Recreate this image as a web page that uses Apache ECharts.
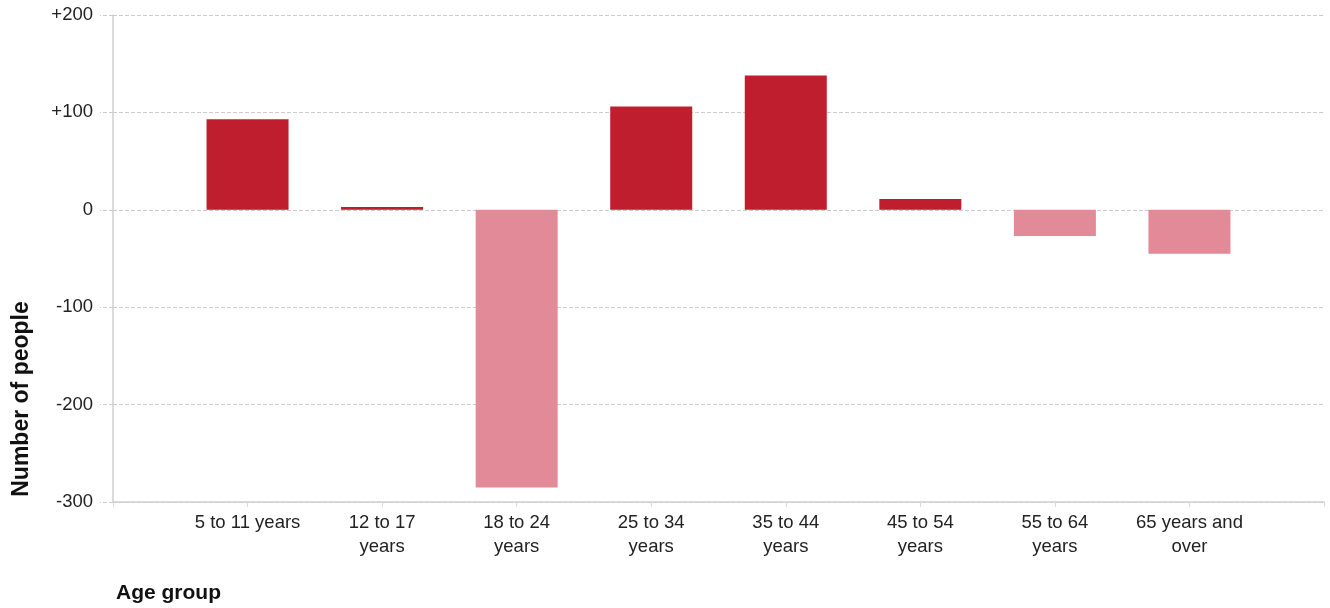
<!DOCTYPE html>
<html>
<head>
<meta charset="utf-8">
<script src="https://cdn.jsdelivr.net/npm/echarts@6/dist/echarts.min.js"></script>
<style>
  html, body { margin: 0; padding: 0; background: #fff; }
  #chart { width: 1330px; height: 608px; }
</style>
</head>
<body>
<div id="chart"></div>
<script>
// age groups (empty slots at both ends keep the bars on the ticks)
var ageGroups = ['', '5 to 11 years', '12 to 17\nyears', '18 to 24\nyears', '25 to 34\nyears',
  '35 to 44\nyears', '45 to 54\nyears', '55 to 64\nyears', '65 years and\nover', ''];
var change = ['-', 93, 3, -285, 106, 138, 11, -27, -45, '-'];
var yTicks = [-300, -100, 0, 100, 200];

var upColor = '#BE1E2D';
var downColor = '#E28A98';
var font = 'Liberation Sans, Arial, sans-serif';

var chart = echarts.init(document.getElementById('chart'));
chart.setOption({
  animation: false,
  textStyle: { fontFamily: font },
  grid: { left: 113, right: 6, top: 15, bottom: 106 },
  xAxis: {
    type: 'category',
    data: ageGroups,
    boundaryGap: false,
    axisLine: { onZero: false, lineStyle: { color: '#cfcfcf', width: 1.5 } },
    axisTick: { show: true, interval: 0, length: 5, lineStyle: { color: '#d8d8d8' } },
    axisLabel: { color: '#222', fontSize: 18.5, lineHeight: 24, margin: 9, interval: 0, hideOverlap: false },
    splitLine: { show: false }
  },
  yAxis: {
    type: 'value',
    min: yTicks[0],
    max: yTicks[yTicks.length - 1],
    interval: 100,
    axisLine: { show: true, lineStyle: { color: '#cfcfcf', width: 1.5 } },
    axisTick: { show: true, length: 13, lineStyle: { color: '#cccccc', type: 'dashed' } },
    axisLabel: {
      color: '#222', fontSize: 18.5, margin: 20,
      formatter: function (v) { return v > 0 ? '+' + v : String(v); }
    },
    splitLine: { lineStyle: { color: '#cccccc', type: 'dashed' } }
  },
  graphic: [
    {
      type: 'text', x: 22, y: 399, rotation: Math.PI / 2,
      style: { text: 'Number of people', font: 'bold 23px ' + font,
        fill: '#111', align: 'center', verticalAlign: 'middle' }
    },
    {
      type: 'text', x: 116, y: 593,
      style: { text: 'Age group', font: 'bold 21px ' + font,
        fill: '#111', align: 'left', verticalAlign: 'middle' }
    }
  ],
  series: [{
    type: 'bar',
    data: change,
    barWidth: 82,
    itemStyle: {
      color: function (p) { return p.value < 0 ? downColor : upColor; }
    }
  }]
});
</script>
</body>
</html>
